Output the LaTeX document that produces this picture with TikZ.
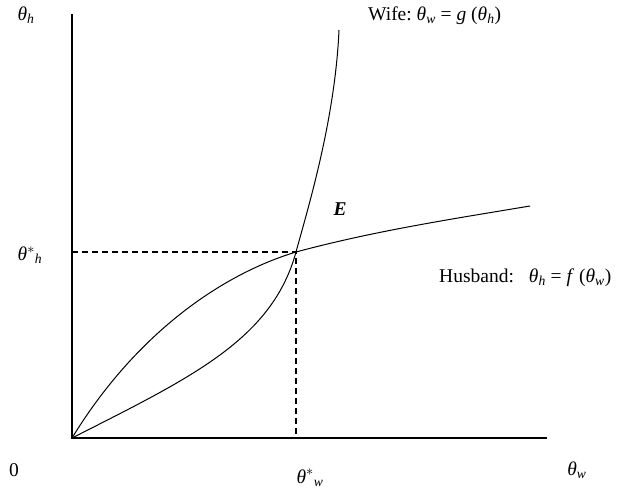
\documentclass[tikz,border=0pt]{standalone}
\usepackage{amsmath}
\usepackage{fontspec}
\setmainfont{Liberation Serif}
\usetikzlibrary{positioning}
\newcommand{\tvar}[1]{\textit{θ}$_{\textit{#1}}$}
\newcommand{\tstar}[1]{\textit{θ}$^{*}{}_{\textit{#1}}$}
\tikzset{
  lbl/.style={font=\fontsize{19.5}{23}\selectfont,inner sep=0pt},
  curve/.style={line width=1pt},
  guide/.style={line width=1.6pt,dash pattern=on 6pt off 4pt}
}

\begin{document}
\begin{tikzpicture}[x=1pt,y=-1pt]
\useasboundingbox (0,0) rectangle (628,495);
\coordinate (O) at (72,438);
\coordinate (Ytop) at (72,14);
\coordinate (Xend) at (547,438);
\coordinate (E) at (296,252);
\coordinate (Eh) at (72,252);
\coordinate (Ew) at (296,436);
\coordinate (Wtop) at (339,30);
\coordinate (Hend) at (530,206);

% axes
\draw[line width=1.2pt] (Ytop) -- (O) -- (Xend);

% wife: theta_w = g(theta_h)
\draw[curve] (O) .. controls (190,378) and (272,340) .. (E)
  .. controls (308,208) and (335,120) .. (Wtop);
% husband: theta_h = f(theta_w)
\draw[curve] (O) .. controls (135,335) and (220,275) .. (E)
  .. controls (374,231) and (452,219) .. (Hend);

% equilibrium
\draw[guide] (Eh) -- (E) -- (Ew);

\node[lbl] (thh) at (26,15) {\tvar{h}};
\node[lbl,anchor=west] (wife) at (368,16) {Wife:\ \tvar{w} = \textit{g} (\tvar{h})};
\node[lbl] (elab) at (340,209) {\textbf{\textit{E}}};
\node[lbl] (ths) at (30,255) {\tstar{h}};
\node[lbl,anchor=west] (husb) at (439,278) {Husband:\hspace{15pt}\tvar{h} = \textit{f} (\tvar{w})};
\node[lbl] (zero) at (14,470) {0};
\node[lbl] (tws) at (310,478) {\tstar{w}};
\node[lbl] (thw) at (577,470) {\tvar{w}};
\end{tikzpicture}
\end{document}
